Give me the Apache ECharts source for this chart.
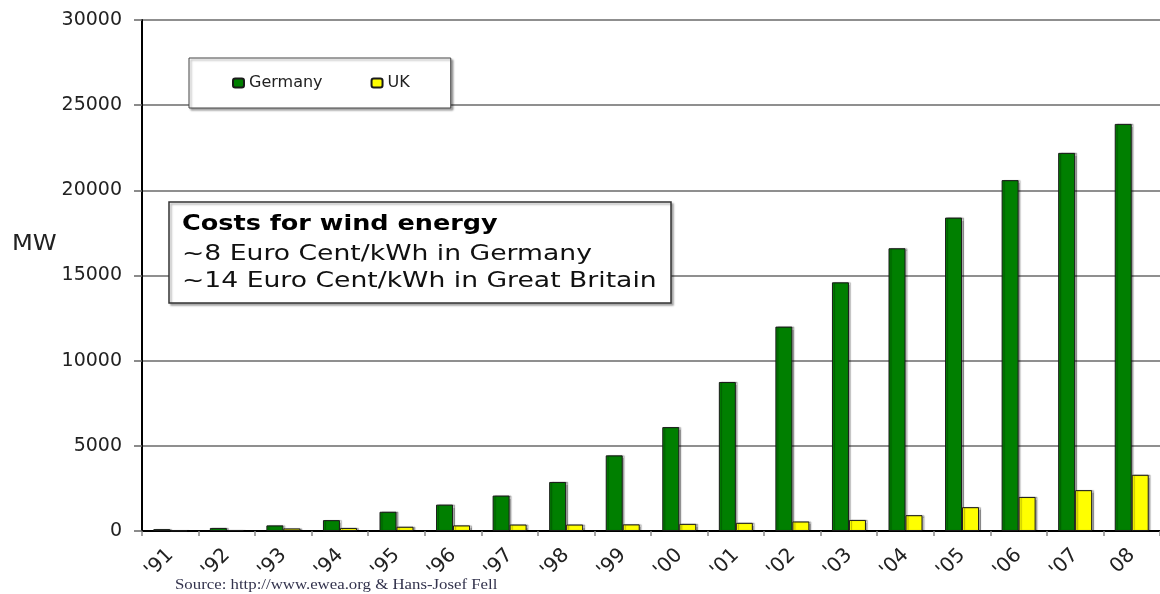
<!DOCTYPE html>
<html>
<head>
<meta charset="utf-8">
<script src="https://cdn.jsdelivr.net/npm/echarts@6/dist/echarts.min.js"></script>
<style>
  html, body { margin: 0; padding: 0; background: #fff; }
  #chart { width: 1160px; height: 594px; }
</style>
</head>
<body>
<div id="chart"></div>
<script>
// data (installed wind capacity, MW)
const years = ["'91", "'92", "'93", "'94", "'95", "'96", "'97", "'98", "'99",
               "'00", "'01", "'02", "'03", "'04", "'05", "'06", "'07", "08"];
const germany = [110, 180, 330, 640, 1130, 1550, 2080, 2880, 4440,
                 6100, 8750, 12000, 14600, 16600, 18400, 20600, 22200, 23900];
const uk = [20, 60, 150, 180, 250, 330, 380, 380, 390,
            420, 480, 560, 650, 930, 1400, 2000, 2400, 3300];
const yMin = 0, yMax = 30000, yStep = 5000;

const boxLines = [
  'Costs for wind energy',
  '~8 Euro Cent/kWh in Germany',
  '~14 Euro Cent/kWh in Great Britain'
];
const sourceText = 'Source: http://www.ewea.org & Hans-Josef Fell';

const FONT = 'DejaVu Sans';

const chart = echarts.init(document.getElementById('chart'));

// bar style shared by both series
function barStyle(color) {
  return {
    color: color,
    borderColor: '#1a1a1a',
    borderWidth: 1,
    shadowColor: 'rgba(0,0,0,0.3)',
    shadowBlur: 1,
    shadowOffsetX: 2,
    shadowOffsetY: 0
  };
}

// plain text element, stretched a little sideways like the original
function label(text, x, y, size, opts) {
  opts = opts || {};
  return {
    type: 'text',
    z: opts.z || 100,
    x: x,
    y: y,
    scaleX: opts.scaleX || 1,
    style: {
      text: text,
      fontFamily: opts.font || FONT,
      fontSize: size,
      fontWeight: opts.bold ? 'bold' : 'normal',
      fill: opts.color || '#111',
      align: 'left',
      verticalAlign: 'top'
    }
  };
}

const option = {
  animation: false,
  backgroundColor: '#fff',
  grid: { left: 142, right: -2, top: 20, bottom: 63 },
  legend: {
    data: ['Germany', 'UK'],
    left: 189,
    top: 58,
    orient: 'horizontal',
    padding: [17, 41, 17, 43],
    itemGap: 48,
    itemWidth: 11,
    itemHeight: 9,
    backgroundColor: '#fff',
    borderColor: '#444',
    borderWidth: 1,
    shadowColor: 'rgba(0,0,0,0.35)',
    shadowBlur: 2,
    shadowOffsetX: 2,
    shadowOffsetY: 2,
    textStyle: { fontFamily: FONT, fontSize: 16, color: '#222' },
    selectedMode: false
  },
  xAxis: {
    type: 'category',
    data: years,
    axisLine: { lineStyle: { color: '#000', width: 2 } },
    axisTick: { show: true, length: 5, lineStyle: { color: '#888', width: 1.5 } },
    axisLabel: {
      rotate: 45,
      margin: 21,
      fontFamily: FONT,
      fontSize: 20,
      color: '#222'
    }
  },
  yAxis: {
    type: 'value',
    min: yMin,
    max: yMax,
    interval: yStep,
    axisLine: { show: true, lineStyle: { color: '#000', width: 2 } },
    axisTick: { show: true, length: 8, lineStyle: { color: '#666', width: 1.5 } },
    axisLabel: {
      margin: 20,
      fontFamily: FONT,
      fontSize: 19,
      color: '#222',
      formatter: v => String(v)
    },
    splitLine: { show: true, lineStyle: { color: '#6a6a6a', width: 1.5 } }
  },
  series: [
    {
      name: 'Germany',
      type: 'bar',
      data: germany,
      barWidth: 17,
      barGap: '0%',
      itemStyle: barStyle('#007f00')
    },
    {
      name: 'UK',
      type: 'bar',
      data: uk,
      barWidth: 17,
      barGap: '0%',
      itemStyle: barStyle('#ffff00')
    }
  ],
  graphic: [
    label('MW', 12, 234, 21, { scaleX: 1.15, color: '#222' }),
    {
      type: 'rect',
      z: 99,
      shape: { x: 169, y: 202, width: 502, height: 101 },
      style: {
        fill: '#fff',
        stroke: '#333',
        lineWidth: 1.5,
        shadowColor: 'rgba(0,0,0,0.3)',
        shadowBlur: 2,
        shadowOffsetX: 2,
        shadowOffsetY: 2
      }
    },
    label(boxLines[0], 182, 213, 22, { bold: true, scaleX: 1.16, color: '#000' }),
    label(boxLines[1], 182, 243, 22, { scaleX: 1.21 }),
    label(boxLines[2], 182, 270, 22, { scaleX: 1.21 }),
    label(sourceText, 175, 578, 15, { font: 'Liberation Serif', scaleX: 1.12, color: '#33334d' })
  ]
};

chart.setOption(option);
window.addEventListener('resize', () => chart.resize());
</script>
</body>
</html>
